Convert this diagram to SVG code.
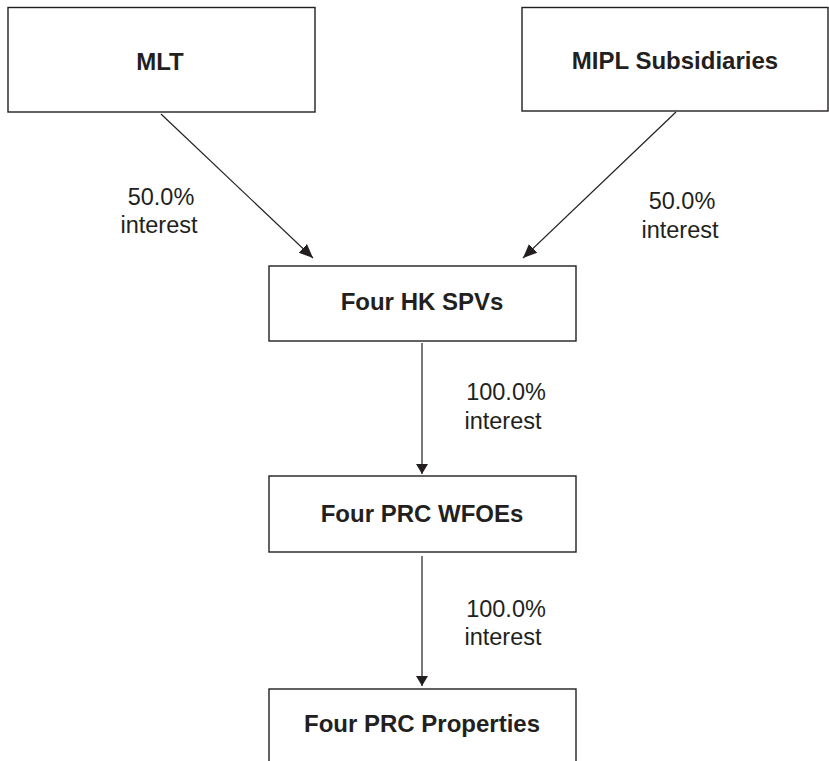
<svg xmlns="http://www.w3.org/2000/svg" width="829" height="761" viewBox="0 0 829 761">
<style>
.box{fill:#fff;stroke:#231f20;stroke-width:1.4}
.t{font-family:"Liberation Sans",Arial,sans-serif;font-weight:bold;font-size:24px;fill:#231f20;text-anchor:middle}
.l{font-family:"Liberation Sans",Arial,sans-serif;font-size:23.5px;fill:#231f20;text-anchor:middle}
.c{fill:none;stroke:#231f20;stroke-width:1.2}
</style>
<defs>
<marker id="ah" markerUnits="userSpaceOnUse" markerWidth="16" markerHeight="16" viewBox="0 0 16 16" refX="14" refY="8" orient="auto">
<path d="M0,2 L14,8 L0,14 Z" fill="#231f20"/>
</marker>
<marker id="av" markerUnits="userSpaceOnUse" markerWidth="14" markerHeight="14" viewBox="0 0 14 14" refX="10" refY="7" orient="auto">
<path d="M0,1 L10,7 L0,13 Z" fill="#231f20"/>
</marker>
</defs>
<rect width="829" height="761" fill="#fff"/>
<g id="mlt"><rect class="box" x="8" y="7.5" width="307" height="104.5"/><text class="t" x="160" y="70">MLT</text></g>
<g id="mipl"><rect class="box" x="522" y="7.5" width="306" height="103.5"/><text class="t" x="675" y="69">MIPL Subsidiaries</text></g>
<g id="hkspv"><rect class="box" x="269" y="266" width="307" height="75"/><text class="t" x="422" y="310">Four HK SPVs</text></g>
<g id="wfoe"><rect class="box" x="269" y="476" width="307" height="76"/><text class="t" x="422" y="522">Four PRC WFOEs</text></g>
<g id="props"><rect class="box" x="269" y="689" width="307" height="80"/><text class="t" x="422" y="732">Four PRC Properties</text></g>
<g id="connectors">
<line class="c" x1="161" y1="114" x2="313" y2="258" marker-end="url(#ah)"/>
<line class="c" x1="676" y1="112" x2="523" y2="258" marker-end="url(#ah)"/>
<line class="c" x1="422" y1="343" x2="422" y2="474" marker-end="url(#av)"/>
<line class="c" x1="422" y1="556" x2="422" y2="686" marker-end="url(#av)"/>
</g>
<g id="labels">
<text class="l" x="161" y="205">50.0%</text><text class="l" x="159" y="233">interest</text>
<text class="l" x="682" y="209">50.0%</text><text class="l" x="680" y="238">interest</text>
<text class="l" x="506" y="400">100.0%</text><text class="l" x="503" y="429">interest</text>
<text class="l" x="506" y="617">100.0%</text><text class="l" x="503" y="645">interest</text>
</g>
</svg>
